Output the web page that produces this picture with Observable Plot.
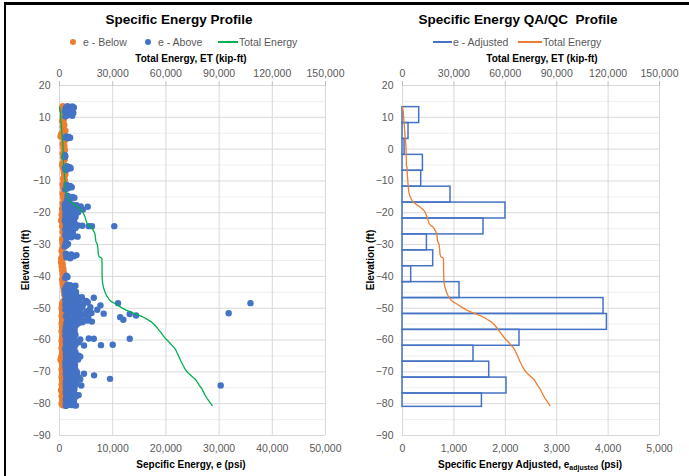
<!DOCTYPE html>
<html><head><meta charset="utf-8">
<script src="https://cdn.jsdelivr.net/npm/d3@7"></script>
<script src="https://cdn.jsdelivr.net/npm/@observablehq/plot@0.6"></script>
<style>
body{margin:0;background:#fff;font-family:"Liberation Sans",Arial,sans-serif;}
#wrap{position:relative;width:689px;height:476px;overflow:hidden;background:#fff;}
.t{position:absolute;white-space:nowrap;line-height:1;}
.c{transform:translate(-50%,-50%);}
.l{transform:translate(0,-50%);}
.title{font-size:13.5px;font-weight:bold;color:#000;}
.ax{font-size:10px;font-weight:bold;color:#000;}
.lg{font-size:10.5px;color:#595959;}
.sw{position:absolute;}
#p1,#p2{position:absolute;top:0;}
#p1{left:0;}#p2{left:345px;}
sub{font-size:7px;vertical-align:-2px;}
</style></head><body>
<div id="wrap">
  <div id="p1"></div><div id="p2"></div>
  <div style="position:absolute;left:4px;top:2px;width:685px;height:3px;background:#000"></div>
  <div style="position:absolute;left:4px;top:2px;width:2px;height:474px;background:#000"></div>

  <div class="t c title" style="left:179px;top:20px">Specific Energy Profile</div>
  <div class="sw" style="left:70px;top:39px;width:6px;height:6px;border-radius:50%;background:#ED7D31"></div>
  <div class="t l lg" style="left:83px;top:42px">e - Below</div>
  <div class="sw" style="left:145px;top:39px;width:6px;height:6px;border-radius:50%;background:#4472C4"></div>
  <div class="t l lg" style="left:158px;top:42px">e - Above</div>
  <div class="sw" style="left:218px;top:41px;width:20px;height:2px;background:#00B050"></div>
  <div class="t l lg" style="left:239px;top:42px">Total Energy</div>
  <div class="t c ax" style="left:191px;top:59px">Total Energy, ET (kip-ft)</div>
  <div class="t c ax" style="left:191px;top:465px">Sepcific Energy, e (psi)</div>
  <div class="t c ax" style="left:26px;top:260px;transform:translate(-50%,-50%) rotate(-90deg)">Elevation (ft)</div>

  <div class="t c title" style="left:518px;top:20px">Specific Energy QA/QC&nbsp; Profile</div>
  <div class="sw" style="left:433px;top:41px;width:19px;height:2px;background:#4472C4"></div>
  <div class="t l lg" style="left:453px;top:42px">e - Adjusted</div>
  <div class="sw" style="left:518px;top:41px;width:24px;height:2px;background:#ED7D31"></div>
  <div class="t l lg" style="left:543px;top:42px">Total Energy</div>
  <div class="t c ax" style="left:542px;top:59px">Total Energy, ET (kip-ft)</div>
  <div class="t c ax" style="left:530px;top:465px">Specific Energy Adjusted, e<sub>adjusted</sub> (psi)</div>
  <div class="t c ax" style="left:371px;top:260px;transform:translate(-50%,-50%) rotate(-90deg)">Elevation (ft)</div>
</div>
<script>
// ---- data: [elevation ft, specific energy psi]
const eBelow = [
[13.5,600],[13.0,800],[12.4,500],[11.8,900],[11.2,700],[10.6,1000],[10.0,600],[9.4,800],[8.8,500],[8.2,700],[7.6,900],[7.0,600],[6.4,800],[5.8,1100],[5.2,500],[4.6,300],[4.0,200],[3.4,700],[2.8,1000],[2.2,800],[1.6,600],[1.0,900],[0.4,700],[-0.2,1000],[-0.8,800],[-1.4,600],[-2.0,900],[-2.6,700],[-3.2,1000],[-3.8,800],[-4.4,600],[-5.0,500],
[-5.6,900],[-6.2,700],[-6.8,1000],[-7.4,800],[-8.0,1100],[-8.6,900],[-9.2,700],[-9.8,1000],[-10.4,800],[-11.0,600],[-11.6,900],[-12.2,700],[-12.8,1000],[-13.4,800],[-14.0,600],[-14.6,900],[-15.2,700],[-15.8,1000],[-16.4,800],
[-17.0,600],[-17.6,900],[-18.2,700],[-18.8,500],[-19.4,800],[-20.0,600],[-20.6,400],[-21.2,700],[-21.8,500],[-22.4,300],[-23.0,600],[-23.6,800],[-24.2,500],[-24.8,700],[-25.4,900],[-26.0,600],[-26.6,800],[-27.2,1000],[-27.8,700],[-28.4,500],[-29.0,800],[-29.6,600],[-30.2,900],[-30.8,700],[-31.4,500],[-32.0,400],[-32.6,600],[-33.2,800],[-33.8,500],[-34.4,300],[-35.0,500],[-35.6,300],[-36.2,600],[-36.8,400],[-37.4,700],[-38.0,500],[-38.6,800],[-39.2,600],[-39.8,900],[-40.4,700],[-41.0,500],[-41.6,800],[-42.2,600],[-42.8,900],[-43.4,700],[-44.0,1000],[-44.6,800],[-45.2,1200],[-45.8,900],[-46.4,1400],[-47.0,1100],[-47.6,800],[-48.2,600],
[-48.8,500],[-49.4,700],[-50.0,400],[-50.6,600],[-51.2,500],[-51.8,700],[-52.4,400],[-53.0,600],[-53.6,500],[-54.2,700],[-54.8,400],[-55.4,600],[-56.0,500],[-56.6,700],[-57.2,400],[-57.8,600],[-58.4,800],[-59.0,500],[-59.6,700],[-60.2,400],[-60.8,600],[-61.4,500],[-62.0,700],[-62.6,400],[-63.2,600],[-63.8,500],[-64.4,700],[-65.0,400],[-65.6,300],[-66.2,200],[-66.8,400],[-67.4,600],[-68.0,500],[-68.6,700],[-69.2,400],[-69.8,600],[-70.4,500],[-71.0,700],[-71.6,400],[-72.2,600],[-72.8,500],[-73.4,700],[-74.0,400],[-74.6,600],[-75.2,500],[-75.8,300],[-76.4,500],[-77.0,700],[-77.6,400],[-78.2,600],[-78.8,500],[-79.4,700],[-80.0,400],[-80.5,600]
];
const eAbove = [
[13.5,1500],[13.4,2400],[13.2,1900],[13.1,2700],[13.0,1200],[12.8,2100],[12.6,2500],[12.5,1600],[12.3,1100],[12.2,2000],[12.0,1400],[11.8,1000],[11.6,1300],[11.4,2600],[11.2,1800],[11.0,2300],[10.8,2000],[10.6,1500],[10.5,2400],[10.3,1100],
[4.0,1300],[3.8,1700],[3.7,1100],[3.6,2000],[3.4,1500],
[-1.8,1000],[-2.2,1100],[-2.5,900],
[-5.4,1400],[-5.7,1900],[-5.9,1000],[-6.0,2100],[-6.2,1600],[-6.6,1200],
[-11.2,1300],[-11.6,2000],[-12.0,2300],[-12.3,1600],[-12.7,1100],
[-14.6,1500],[-15.0,2400],[-15.3,2800],[-15.7,2000],[-16.0,1400],
[-17.0,1200],[-17.2,1800],[-17.4,1000],[-17.5,2500],[-17.6,3200],[-17.8,1500],[-17.9,2800],[-18.0,4000],[-18.1,5300],[-18.3,2200],[-18.4,1300],[-18.5,3600],[-18.7,1000],[-18.8,2800],[-19.0,4400],[-19.1,2300],[-19.2,1700],[-19.4,3100],[-19.6,2300],[-19.8,3500],[-19.9,1300],[-20.2,2600],[-20.4,1100],[-20.5,1800],[-20.8,3000],[-20.9,2300],[-21.1,1400],[-21.3,3000],[-21.4,2200],[-21.7,1100],[-21.9,2700],[-22.0,1900],[-22.3,2500],[-22.5,1000],[-22.6,1500],[-22.9,1200],[-23.0,2800],[-23.2,2000],[-23.5,1600],[-23.7,1200],[-23.8,2900],[-24.0,3500],[-24.1,4300],[-24.2,5500],[-24.2,6100],[-24.2,10300],[-24.3,1600],[-24.4,2400],[-24.6,1300],[-24.8,3000],[-24.9,1900],[-25.2,1100],[-25.4,1400],[-25.5,2200],[-25.8,1500],[-25.9,2500],[-26.1,1200],[-26.4,1800],[-26.6,2100],[-26.8,1400],[-27.1,1100],[-27.3,2700],[-27.5,3400],[-27.7,2200],[-28.0,1300],
[-29.4,1200],[-29.8,1600],[-30.2,1300],[-30.6,1000],
[-32.9,1200],[-33.1,2200],[-33.3,3200],[-33.5,1600],[-33.7,2700],[-34.0,1300],[-34.3,2000],
[-39.8,1300],[-40.2,1500],[-40.5,1100],
[-42.6,1500],[-42.8,2000],[-42.9,3000],[-43.1,2200],[-43.3,2700],[-43.4,1200],[-43.7,2600],[-43.9,1400],[-44.0,1700],[-44.3,1000],[-44.5,1900],[-44.6,2300],[-44.9,3100],[-45.0,2500],[-45.2,1400],[-45.5,2000],[-45.6,1100],[-45.8,2700],
[-46.0,2400],[-46.1,1200],[-46.3,3300],[-46.5,4200],[-46.6,1500],[-46.7,6450],[-46.9,2100],[-47.0,2900],[-47.1,1600],[-47.3,3800],[-47.4,1100],[-47.5,2600],[-47.7,5000],[-47.8,3500],[-47.9,1300],[-48.1,5300],[-48.2,2200],[-48.3,3000],[-48.4,11000],[-48.4,35900],[-48.5,2000],[-48.7,4500],[-48.8,3100],[-48.9,1100],[-49.1,7700],[-49.2,1300],[-49.3,3500],[-49.5,2400],[-49.6,4300],[-49.7,5800],[-49.9,1700],[-50.0,2100],[-50.1,4000],[-50.3,2900],[-50.4,1100],[-50.5,7100],[-50.7,1400],[-50.8,3700],[-50.9,5200],[-51.1,3300],[-51.2,1700],[-51.3,2200],[-51.5,6000],[-51.6,31800],[-51.6,4900],[-51.7,8300],[-51.8,13200],[-51.9,4600],[-52.0,2900],[-52.1,1500],[-52.3,14400],[-52.4,3800],[-52.5,1200],[-52.6,2700],[-52.8,11400],[-52.9,3300],[-53.0,5400],[-53.2,1900],[-53.3,2600],[-53.4,4200],[-53.6,12000],[-53.7,1500],[-53.8,3000],[-53.9,5200],[-54.1,2300],[-54.2,6100],[-54.3,3000],[-54.4,4300],[-54.6,1300],[-54.8,3500],[-54.9,1800],[-55.0,2600],[-55.3,1800],[-55.4,2500],[-55.6,3000],[-55.8,2000],[-55.9,1200],
[-56.2,2200],[-56.35,1200],[-56.5,1500],[-56.65,2500],[-56.8,2800],[-56.95,1700],[-57.1,1100],[-57.25,2800],[-57.4,1900],[-57.55,1300],[-57.7,2500],[-57.85,2100],[-58.0,1400],[-58.15,2600],[-58.3,3000],[-58.45,1100],[-58.6,2000],[-58.75,2500],[-58.9,1200],[-59.05,1800],[-59.2,2700],[-59.35,1300],[-59.5,5500],[-59.6,6450],[-59.6,13200],[-59.8,3900],[-59.9,2600],[-60.0,1700],[-60.2,2400],[-60.35,1200],[-60.5,3300],[-60.7,3600],[-60.85,2500],[-61.0,1300],[-61.15,1800],[-61.3,2100],[-61.45,3000],[-61.5,10000],[-61.6,7800],[-61.7,4600],[-61.9,2800],[-62.05,1200],[-62.2,1600],[-62.35,2700],[-62.5,2300],[-62.65,1800],[-62.8,1100],[-62.95,2800],[-63.1,1900],[-63.25,1200],[-63.4,2600],[-63.55,2300],[-63.7,1400],[-63.85,3000],[-64.0,2100],[-64.15,1700],[-64.3,1200],[-64.45,2500],[-64.6,3000],[-64.75,1300],[-64.9,3600],[-65.05,2200],[-65.2,3900],[-65.35,2900],[-65.5,1700],[-65.65,1200],[-65.8,2400],[-65.95,3000],[-66.1,3500],[-66.25,2200],[-66.4,1300],[-66.55,2800],[-66.7,2000],[-66.85,1600],[-67.0,1100],[-67.15,2400],[-67.3,2600],[-67.45,1200],[-67.6,1600],[-67.75,2900],[-67.9,2200],[-68.05,2000],[-68.2,1300],[-68.35,1100],[-68.5,2900],[-68.65,2300],[-68.8,1800],[-68.95,1400],[-69.1,2400],[-69.25,2800],[-69.4,1200],[-69.55,1900],[-69.7,3100],[-69.85,1300],[-70.0,2000],[-70.2,3300],[-70.4,2500],[-70.6,4600],[-70.75,1200],[-70.9,1500],[-71.1,6500],[-71.3,2700],[-71.45,1300],[-71.6,3500],[-71.75,2400],[-71.9,1900],[-72.05,1300],[-72.2,9500],[-72.3,3900],[-72.5,1400],[-72.65,2900],[-72.8,2500],[-72.95,1800],[-73.1,3200],[-73.25,1200],[-73.4,1700],[-73.55,2700],[-73.7,2200],[-73.85,3100],[-74.0,1200],[-74.15,2300],[-74.3,4100],[-74.3,30300],[-74.45,1400],[-74.6,2800],[-74.75,2100],[-74.9,1800],[-75.05,1200],[-75.2,2300],[-75.35,2800],[-75.5,1300],[-75.65,1800],[-75.8,2600],[-75.95,1200],[-76.1,1600],[-76.25,2700],[-76.4,2100],[-76.55,1800],[-76.7,1200],[-76.85,2400],[-77.0,2900],[-77.15,1300],[-77.3,3600],[-77.5,2400],[-77.65,3100],[-77.8,1500],[-77.95,2400],[-78.1,2000],[-78.25,2800],[-78.4,1200],[-78.55,1800],[-78.7,2500],[-78.85,1200],[-79.0,1700],[-79.15,2700],[-79.3,2200],[-79.45,1900],[-79.6,1300],[-79.75,2500],[-79.9,1900],[-80.05,1200],[-80.2,1600],[-80.35,1900],[-80.4,2300],[-80.5,2800],[-80.6,3100],[-80.7,1200]
];
// [elevation ft, total energy kip-ft]
const totalEnergy = [
[13.3,0],[12.5,200],[11.8,500],[10.5,600],[9,800],[7,1100],[5,1400],[3,1700],[1,2000],[-1,2100],[-3,2200],[-5.2,2300],[-5.8,2700],[-8,2800],[-10,3100],[-12,3400],[-13.5,3700],[-14.5,4200],[-15.5,4900],[-16.3,5800],[-17,7200],[-17.6,8600],[-18.2,10200],[-18.8,11600],[-19.5,12800],[-20.3,13600],[-21.3,14400],[-22.3,14900],[-23.3,15500],[-24,16400],[-24.5,18000],[-25.3,18800],[-26.2,19700],[-27,20100],[-28,20300],[-29,20500],[-29.8,21300],[-31,21600],[-33,21900],[-33.8,22300],[-34.3,23900],[-36,24000],[-38,24000],[-40.8,24100],[-42,24300],[-43.5,24800],[-45,25700],[-46.3,26800],[-47.3,28100],[-48.1,29800],[-48.6,31500],[-49.2,33200],[-49.8,35000],[-50.5,37300],[-51.2,40200],[-51.9,43300],[-52.5,46000],[-53.0,47900],[-53.6,49700],[-54.3,51800],[-55.2,53600],[-56.3,55300],[-57.6,57100],[-58.7,58600],[-59.7,60000],[-60.6,61800],[-61.5,63200],[-62.3,64500],[-63.2,65600],[-64.3,66600],[-65.6,67600],[-66.6,68400],[-68,69700],[-69.3,71000],[-70.2,72300],[-70.9,73700],[-71.7,75200],[-72.5,76900],[-73.4,77900],[-74.3,78900],[-75.3,80300],[-76.3,81200],[-77.3,82100],[-78.3,83200],[-79.3,84400],[-80.6,86100]
];
// e - Adjusted bins: top/bottom elevations (ft) and value (psi)
const adjTop    = [13.2, 8.2, 3.2, -1.8, -6.8, -11.8, -16.8, -21.8, -26.8, -31.8, -36.8, -41.8, -46.8, -51.8, -56.8, -61.8, -66.8, -71.8, -76.8];
const adjBottom = [8.2, 3.2, -1.8, -6.8, -11.8, -16.8, -21.8, -26.8, -31.8, -36.8, -41.8, -46.8, -51.8, -56.8, -61.8, -66.8, -71.8, -76.8, -81.0];
const adjValue  = [325, 117, 40, 397, 364, 934, 2004, 1576, 475, 597, 169, 1109, 3911, 3977, 2276, 1381, 1687, 2023, 1545];

const yTicks = [-90,-80,-70,-60,-50,-40,-30,-20,-10,0,10,20];
const yMinor = [-85,-75,-65,-55,-45,-35,-25,-15,-5,5,15];
const x1Ticks = [0,10000,20000,30000,40000,50000];
const x2Ticks = [0,1000,2000,3000,4000,5000];
const fmt = d3.format(",");

const orange = "#ED7D31", blue = "#4472C4", green = "#00B050";
const style = {fontFamily: '"Liberation Sans", Arial, sans-serif', fontSize: "10.5px", color: "#595959", background: "transparent", overflow: "visible"};

function baseMarks(xTicks, factor) {
  return [
    Plot.gridY(yMinor, {stroke: "#efefef", strokeOpacity: 1}),
    Plot.gridY(yTicks, {stroke: "#d9d9d9", strokeOpacity: 1}),
    Plot.gridX(xTicks, {stroke: "#d9d9d9", strokeOpacity: 1}),
    Plot.axisY(yTicks, {tickSize: 0, tickPadding: 9, label: null, fill: "#595959"}),
    Plot.axisX(xTicks, {anchor: "bottom", tickSize: 0, tickPadding: 9, tickFormat: fmt, label: null, fill: "#595959"}),
    Plot.axisX(xTicks, {anchor: "top", tickSize: 5, tickPadding: 4, stroke: "#bfbfbf", tickFormat: d => fmt(d * factor), label: null, fill: "#595959"})
  ];
}

const left = Plot.plot({
  width: 345, height: 476,
  marginLeft: 59, marginRight: 20, marginTop: 85, marginBottom: 41,
  x: {domain: [0, 50000]},
  y: {domain: [-90, 20]},
  style,
  marks: [
    ...baseMarks(x1Ticks, 3),
    Plot.dot(eBelow, {x: d => d[1], y: d => d[0], r: 3.2, fill: orange, stroke: null}),
    Plot.dot(eAbove, {x: d => d[1], y: d => d[0], r: 3.2, fill: blue, stroke: null}),
    Plot.line(totalEnergy, {x: d => d[1] / 3, y: d => d[0], stroke: green, strokeWidth: 1.3})
  ]
});
document.getElementById("p1").appendChild(left);

const adj = adjValue.map((v, i) => ({v, top: adjTop[i], bottom: adjBottom[i]}));
const right = Plot.plot({
  width: 344, height: 476,
  marginLeft: 57, marginRight: 30, marginTop: 85, marginBottom: 41,
  x: {domain: [0, 5000]},
  y: {domain: [-90, 20]},
  style,
  marks: [
    ...baseMarks(x2Ticks, 30),
    Plot.rectX(adj, {x1: 0, x2: "v", y1: "top", y2: "bottom", fill: "none", stroke: blue, strokeWidth: 1.5}),
    Plot.line(totalEnergy, {x: d => d[1] / 30, y: d => d[0], stroke: orange, strokeWidth: 1.3})
  ]
});
document.getElementById("p2").appendChild(right);
</script>
</body></html>
